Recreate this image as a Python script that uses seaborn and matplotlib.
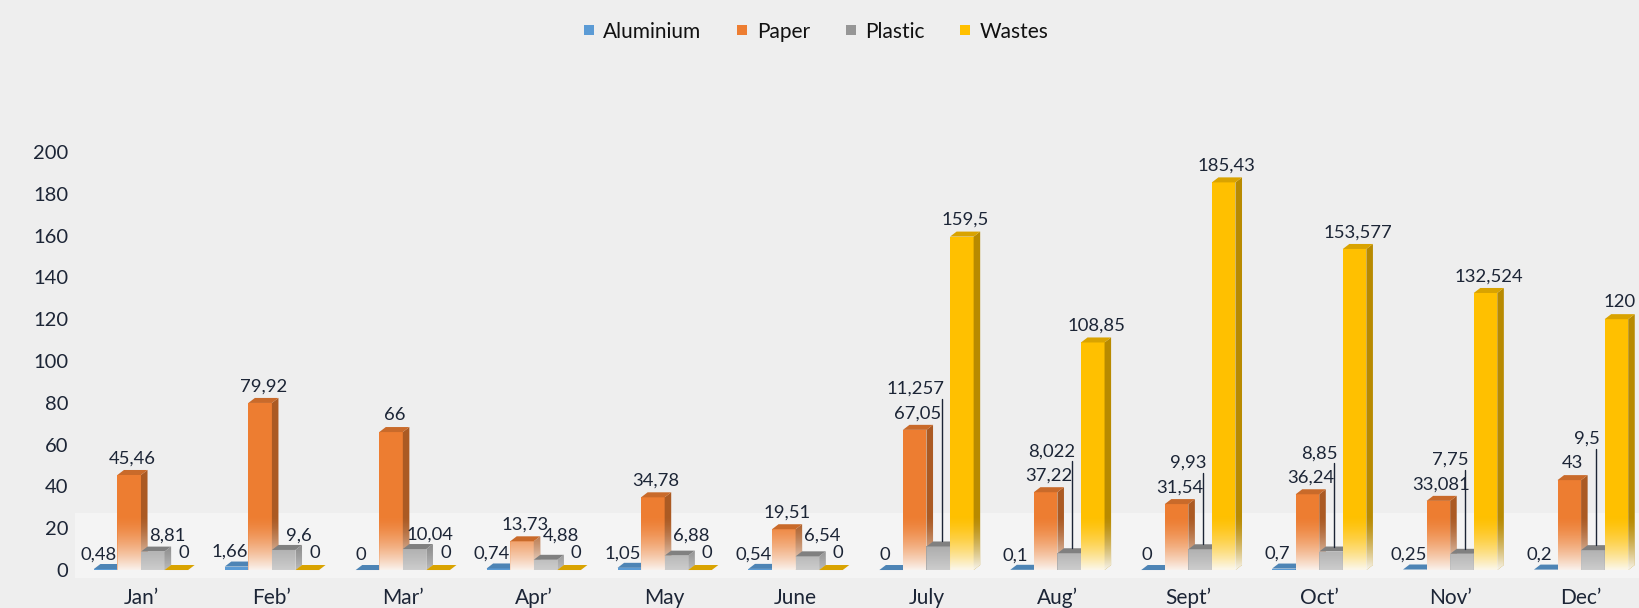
import numpy as np
import pandas as pd
import matplotlib
matplotlib.use("Agg")
import matplotlib.pyplot as plt
import matplotlib.colors as mcolors
from matplotlib.patches import Polygon
from matplotlib.lines import Line2D
import seaborn as sns

months = ["Jan’", "Feb’", "Mar’", "Apr’", "May", "June",
          "July", "Aug’", "Sept’", "Oct’", "Nov’", "Dec’"]
aluminium = [0.48, 1.66, 0, 0.74, 1.05, 0.54, 0, 0.1, 0, 0.7, 0.25, 0.2]
paper = [45.46, 79.92, 66, 13.73, 34.78, 19.51, 67.05, 37.22, 31.54, 36.24, 33.081, 43]
plastic = [8.81, 9.6, 10.04, 4.88, 6.88, 6.54, 11.257, 8.022, 9.93, 8.85, 7.75, 9.5]
wastes = [0, 0, 0, 0, 0, 0, 159.5, 108.85, 185.43, 153.577, 132.524, 120]

materials = ["Aluminium", "Paper", "Plastic", "Wastes"]
colors = {"Aluminium": "#5b9bd5", "Paper": "#ed7d31",
          "Plastic": "#969696", "Wastes": "#ffc000"}
yticks = [0, 20, 40, 60, 80, 100, 120, 140, 160, 180, 200]

series = {"Aluminium": aluminium, "Paper": paper, "Plastic": plastic, "Wastes": wastes}
df = pd.DataFrame([(m, mat, v) for mat in materials for m, v in zip(months, series[mat])],
                  columns=["month", "material", "value"])

sns.set_theme(style="white")
plt.rcParams['font.family'] = ['Lato', 'DejaVu Sans']
bg = "#eeeeee"
txt = "#1c2536"

fig = plt.figure(figsize=(16.4, 6.08), dpi=100, facecolor=bg)
ax = fig.add_axes([75 / 1640, 0.0487, 1 - 75 / 1640, 0.7186])
ax.set_facecolor(bg)

sns.barplot(data=df, x="month", y="value", hue="material", hue_order=materials,
            palette=colors, width=0.72, saturation=1, legend=False, ax=ax)

# lighter floor band
ax.axhspan(-4, 27.5, color="#f4f4f4", zorder=0.5, lw=0)


def shade(c, f):
    r, g, b = mcolors.to_rgb(c)
    return (r * f, g * f, b * f)


def fmt(v):
    return f"{v:g}".replace(".", ",")


dx, dy = 0.05, 2.4
fade_top = 26.0
fade_max = {"Aluminium": 0.0, "Paper": 0.93, "Plastic": 0.55, "Wastes": 0.93}
fs = 13.3
bars = []
for hi, cont in enumerate(ax.containers):
    for mi, p in enumerate(cont):
        bars.append((materials[hi], mi, p))

for mat, mi, p in bars:
    x0, w, h = p.get_x(), p.get_width(), p.get_height()
    col = colors[mat]
    z = 2 + x0 * 0.1
    p.set_zorder(z)
    p.set_edgecolor("none")
    side = Polygon([(x0 + w, 0), (x0 + w + dx, dy), (x0 + w + dx, h + dy), (x0 + w, h)],
                   closed=True, facecolor=shade(col, 0.72), edgecolor="none", zorder=z + 0.001)
    top = Polygon([(x0, h), (x0 + dx, h + dy), (x0 + w + dx, h + dy), (x0 + w, h)],
                  closed=True, facecolor=shade(col, 0.85), edgecolor="none", zorder=z + 0.002)
    ax.add_patch(side)
    ax.add_patch(top)
    if h > 0.5 and fade_max[mat] > 0:
        ys = np.linspace(0, h + dy, 150)
        alpha = np.clip((fade_top - ys) / fade_top, 0, 1) ** 1.5 * fade_max[mat]
        rgba = np.zeros((150, 2, 4))
        rgba[..., :3] = 0.985
        rgba[..., 3] = alpha[:, None]
        im = ax.imshow(rgba, extent=(x0, x0 + w + dx, 0, h + dy), origin="lower",
                       aspect="auto", interpolation="bilinear", zorder=z + 0.003)
        clip = Polygon([(x0, 0), (x0 + w, 0), (x0 + w + dx, dy), (x0 + w + dx, h + dy),
                        (x0 + w, h), (x0, h)], closed=True, transform=ax.transData)
        im.set_clip_path(clip)

    cx = x0 + (w + dx) / 2
    lab = fmt(h)
    if mat == "Aluminium":
        ax.text(x0 + w / 2 - 0.05, h + 7, lab, ha="center", va="center",
                fontsize=fs, color=txt, zorder=10)
    elif mat == "Paper":
        ax.text(cx, h + 8, lab, ha="center", va="center",
                fontsize=fs, color=txt, zorder=10)
    elif mat == "Plastic":
        if wastes[mi] > 0:
            lx = x0 + 0.115
            ytop = paper[mi] + 15
            ax.plot([lx, lx], [h + dy, ytop], color=txt, lw=1, zorder=10)
            ax.text(lx + 0.025, ytop + 0.8, lab, ha="right", va="bottom",
                    fontsize=fs, color=txt, zorder=10)
        else:
            ax.text(cx + 0.09, max(h + 7, 16.5), lab, ha="center", va="center",
                    fontsize=fs, color=txt, zorder=10)
    else:
        ax.text(cx + (0.03 if h == 0 else 0), h + 8, lab, ha="center", va="center",
                fontsize=fs, color=txt, zorder=10)

ax.set_xlim(-0.504, 11.45)
ax.set_ylim(-4, 205)
ax.set_yticks(yticks)
ax.set_xlabel("")
ax.set_ylabel("")
ax.tick_params(axis="y", length=0, pad=5, labelsize=14.5, labelcolor=txt)
ax.tick_params(axis="x", length=0, pad=7, labelsize=15, labelcolor=txt)
ax.grid(False)
sns.despine(ax=ax, left=True, bottom=True)

handles = [Line2D([], [], marker="s", linestyle="", markersize=7.5,
                  markerfacecolor=colors[m], markeredgewidth=0) for m in materials]
fig.legend(handles, materials, loc="center", bbox_to_anchor=(0.497, 0.948), ncol=4,
           frameon=False, fontsize=15, handletextpad=0.35, columnspacing=1.6,
           handlelength=0.7, labelcolor="#111111")

fig.savefig("out.png", dpi=100, facecolor=bg)
